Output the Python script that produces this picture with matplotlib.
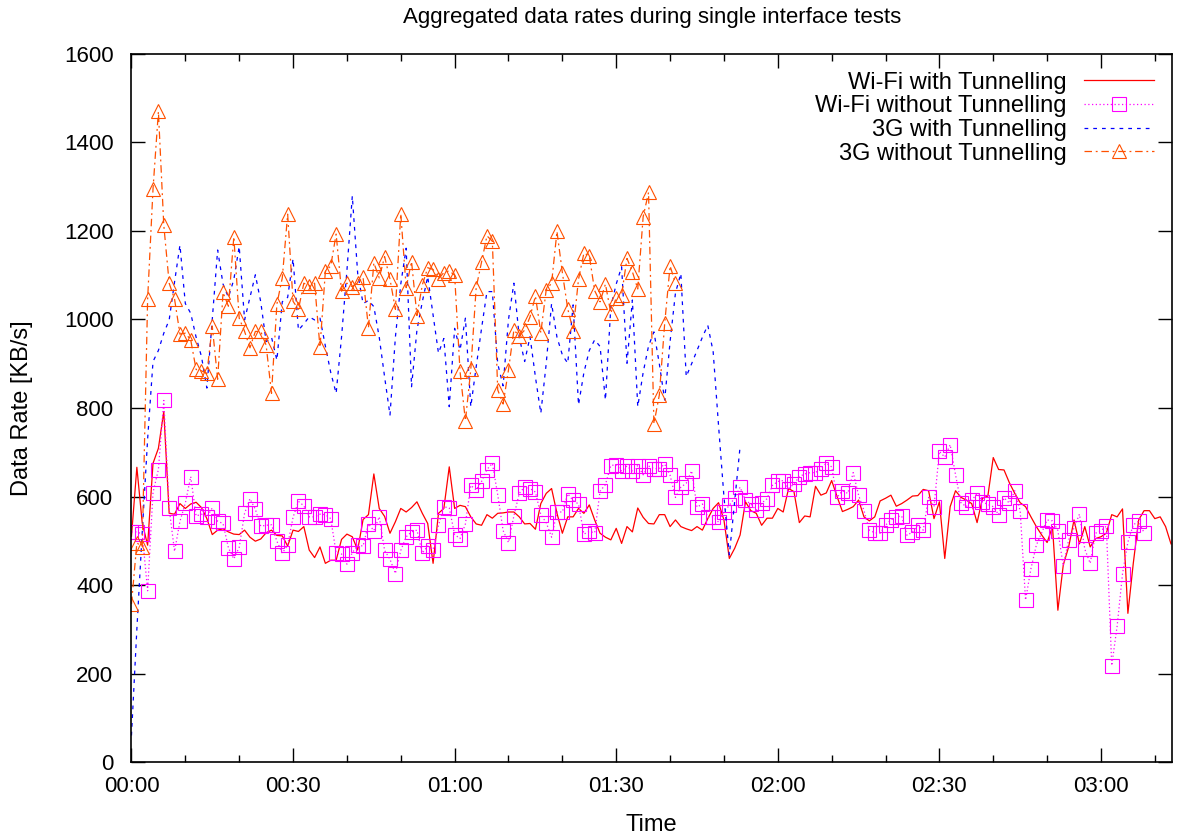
import numpy as np
import matplotlib.pyplot as plt
from matplotlib.ticker import MultipleLocator, FuncFormatter

plt.rcParams['font.family'] = ['Liberation Sans', 'DejaVu Sans']

# data rates in KB/s, one sample per minute
wifi_tun = [510, 666, 540, 490, 675, 709, 792, 562, 560, 584, 573, 583, 587, 575, 550, 514,
            524, 527, 520, 515, 514, 524, 508, 499, 504, 518, 524, 512, 511, 488, 524, 521,
            532, 479, 462, 486, 449, 456, 456, 503, 515, 509, 479, 548, 559, 651, 573, 555,
            517, 543, 573, 565, 575, 588, 562, 539, 449, 562, 573, 667, 573, 580, 577, 554,
            538, 535, 559, 551, 562, 563, 565, 565, 554, 538, 539, 526, 584, 607, 618, 562,
            517, 554, 554, 573, 562, 581, 547, 517, 508, 502, 528, 494, 532, 520, 574, 553,
            539, 538, 559, 559, 532, 547, 532, 527, 523, 532, 524, 550, 573, 586, 547, 460,
            483, 513, 588, 568, 562, 535, 551, 551, 573, 565, 618, 611, 541, 556, 554, 623,
            603, 608, 636, 600, 566, 571, 577, 592, 554, 545, 554, 590, 596, 603, 578, 584,
            592, 601, 602, 616, 613, 550, 588, 460, 577, 613, 598, 592, 584, 541, 596, 601,
            688, 661, 660, 631, 607, 586, 577, 554, 532, 513, 496, 532, 343, 445, 486, 547,
            493, 532, 486, 505, 509, 517, 559, 554, 572, 336, 449, 547, 568, 568, 550, 554,
            532, 493]

wifi_notun = [520, 520, 515, 387, 609, 661, 817, 573, 476, 544, 585, 645, 556, 560, 554, 574,
              544, 539, 484, 459, 485, 562, 595, 571, 533, 535, 536, 499, 472, 490, 553, 589,
              579, 554, 554, 560, 559, 550, 472, 470, 447, 473, 490, 488, 538, 523, 554, 478,
              458, 426, 478, 509, 520, 524, 472, 488, 480, 535, 577, 574, 514, 505, 538, 625,
              615, 634, 661, 675, 604, 523, 496, 556, 607, 622, 618, 610, 559, 541, 508, 565,
              565, 606, 591, 583, 515, 521, 518, 612, 627, 670, 672, 657, 669, 658, 670, 649,
              669, 663, 663, 673, 648, 598, 621, 630, 658, 576, 583, 553, 554, 542, 566, 580,
              597, 621, 591, 583, 569, 585, 595, 625, 634, 636, 618, 628, 645, 651, 654, 654,
              663, 675, 667, 598, 613, 607, 654, 603, 568, 524, 518, 517, 535, 547, 554, 556,
              512, 520, 535, 524, 598, 577, 702, 689, 717, 649, 586, 577, 591, 607, 588, 582,
              577, 559, 597, 585, 613, 568, 366, 437, 490, 518, 547, 545, 523, 443, 502, 529,
              560, 481, 449, 517, 523, 533, 218, 307, 425, 497, 536, 544, 518]

g3_tun = [60, 300, 520, 730, 905, 930, 969, 999, 1085, 1168, 1036, 1014, 960, 916, 845, 1000,
          1157, 1080, 1050, 1090, 1165, 999, 1050, 1101, 1040, 950, 960, 908, 1040, 1050, 1137, 976,
          990, 1006, 999, 1003, 940, 880, 833, 960, 1110, 1279, 1104, 1036, 1043, 1029, 960, 870,
          784, 960, 1080, 1161, 848, 976, 1040, 1097, 1010, 924, 957, 803, 980, 931, 1003, 803,
          893, 980, 1063, 1063, 900, 850, 1000, 1082, 960, 905, 961, 870, 788, 900, 1036, 960,
          920, 901, 1033, 807, 880, 930, 954, 939, 818, 1029, 1080, 1119, 901, 1044, 803, 880,
          940, 972, 900, 818, 950, 1060, 1104, 871, 900, 930, 960, 987, 927, 760, 600, 468,
          590, 713]

g3_notun = [357, 495, 487, 1046, 1295, 1470, 1213, 1082, 1046, 967, 969, 954, 887, 884, 878, 985,
            865, 1061, 1030, 1187, 1003, 973, 936, 973, 973, 942, 833, 1035, 1094, 1238, 1041, 1023,
            1082, 1076, 1082, 937, 1109, 1121, 1193, 1064, 1082, 1074, 1083, 1095, 981, 1128, 1094, 1142,
            1091, 1023, 1239, 1072, 1131, 1009, 1078, 1117, 1113, 1092, 1106, 1110, 1100, 883, 771, 887,
            1072, 1130, 1189, 1177, 841, 809, 886, 976, 963, 976, 1006, 1053, 970, 1067, 1082, 1199,
            1106, 1024, 975, 1091, 1150, 1144, 1065, 1040, 1080, 1014, 1049, 1056, 1138, 1108, 1069, 1232,
            1287, 764, 829, 991, 1121, 1082]

fs = 16
fig = plt.figure(figsize=(11.77, 8.34), dpi=100)
ax = fig.add_axes([0.1117, 0.0863, 0.8841, 0.849])

ax.plot(np.arange(len(wifi_tun)), wifi_tun, color='#ff0000', lw=0.9,
        label='Wi-Fi with Tunnelling')
ax.plot(np.arange(len(wifi_notun)), wifi_notun, color='#ff00ff', lw=0.9, ls=(0, (1, 2)),
        marker='s', ms=9.5, mfc='none', mec='#ff00ff', mew=0.8,
        label='Wi-Fi without Tunnelling')
ax.plot(np.arange(len(g3_tun)), g3_tun, color='#0000ff', lw=0.9, ls=(0, (3, 4)),
        label='3G with Tunnelling')
ax.plot(np.arange(len(g3_notun)), g3_notun, color='#ff5000', lw=0.9, ls=(0, (6, 3, 1.5, 3)),
        marker='^', ms=9.5, mfc='none', mec='#ff5000', mew=0.8,
        label='3G without Tunnelling')

ax.set_xlim(0, 193.2)
ax.set_ylim(0, 1600)
ax.xaxis.set_major_locator(MultipleLocator(30))
ax.xaxis.set_minor_locator(MultipleLocator(10))
ax.yaxis.set_major_locator(MultipleLocator(200))
ax.xaxis.set_major_formatter(FuncFormatter(lambda m, p: '%02d:%02d' % (int(m) // 60, int(m) % 60)))
ax.tick_params(which='both', direction='in', top=True, right=True, labelsize=fs, width=1)
ax.tick_params(which='major', length=10)
ax.tick_params(which='minor', length=5)
ax.tick_params(axis='x', which='major', pad=10)
ax.tick_params(axis='y', which='major', pad=13)
for s in ax.spines.values():
    s.set_linewidth(1.2)

ax.set_title('Aggregated data rates during single interface tests', fontsize=fs, pad=22)
ax.set_xlabel('Time', fontsize=fs + 1, labelpad=12)
ax.set_ylabel('Data Rate [KB/s]', fontsize=fs + 1, labelpad=22)

ax.legend(loc='upper right', frameon=False, markerfirst=False, numpoints=1,
          fontsize=fs + 1, handlelength=3.0, labelspacing=0.07, borderaxespad=0.35,
          handletextpad=0.7)

fig.savefig('out.png')
